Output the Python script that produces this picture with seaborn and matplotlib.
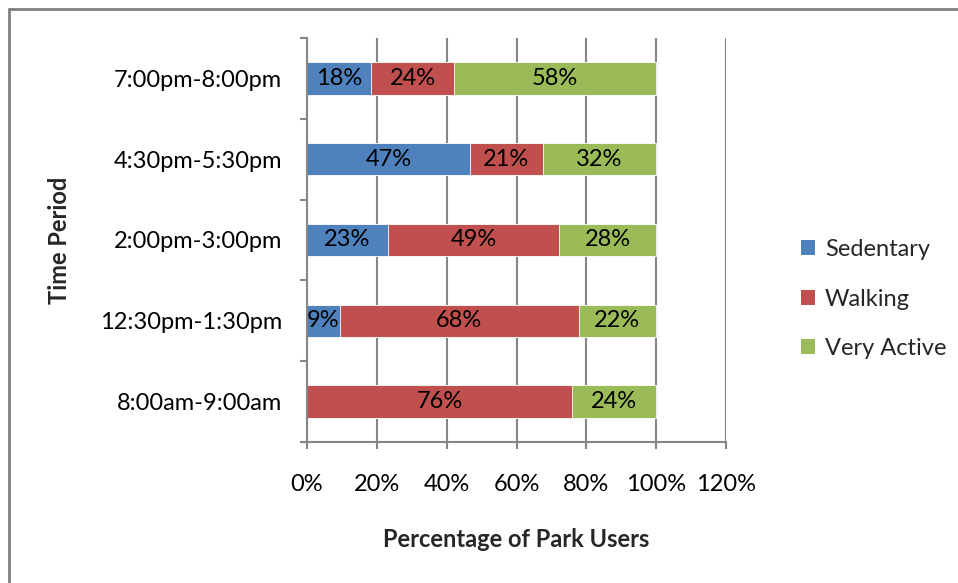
import matplotlib
matplotlib.use("Agg")
import matplotlib.pyplot as plt
from matplotlib.patches import Patch
from matplotlib.lines import Line2D
import numpy as np
import pandas as pd
import seaborn as sns

# Share of park users by activity level for each observation window (%)
periods = ["7:00pm-8:00pm", "4:30pm-5:30pm", "2:00pm-3:00pm",
           "12:30pm-1:30pm", "8:00am-9:00am"]
sedentary = [18.4, 46.6, 23.2, 9.4, 0.0]
walking = [23.7, 21.0, 49.0, 68.4, 76.0]
very_active = [57.9, 32.4, 27.8, 22.2, 24.0]

series_names = ["Sedentary", "Walking", "Very Active"]
colors = ["#4F81BD", "#C0504D", "#9BBB59"]
x_ticks = [0, 20, 40, 60, 80, 100, 120]

sns.set_theme(style="white")
plt.rcParams["font.family"] = ["Lato", "DejaVu Sans"]
FS = 17

df = pd.DataFrame({"period": periods, "Sedentary": sedentary,
                   "Walking": walking, "Very Active": very_active})
cum = df[series_names].cumsum(axis=1)

fig = plt.figure(figsize=(9.58, 5.83), dpi=100)
ax = fig.add_axes([307 / 958, 1 - 442 / 583, (726 - 307) / 958, (442 - 38) / 583])

grid_c = "#868686"
for t in x_ticks[1:]:
    ax.axvline(t, color=grid_c, lw=1.5, zorder=0)

# Stack by drawing cumulative totals from the outermost segment inward
for name, col in reversed(list(zip(series_names, colors))):
    sns.barplot(data=cum.assign(period=df["period"]), x=name, y="period",
                orient="h", color=col, width=0.4, saturation=1,
                edgecolor="white", linewidth=0.6, ax=ax, zorder=2)

# Value labels centred in each segment
starts = cum.shift(axis=1, fill_value=0)
for i in range(len(df)):
    for name in series_names:
        v = df.loc[i, name]
        if v <= 0:
            continue
        ax.text(starts.loc[i, name] + v / 2, i, f"{v:.0f}%",
                ha="center", va="center", fontsize=FS, color="black", zorder=3)

ax.set_xlim(0, 120)
ax.set_ylim(len(df) - 0.5, -0.5)
ax.set_xticks(x_ticks)
ax.set_xticklabels([f"{t}%" for t in x_ticks], fontsize=FS)
ax.set_yticks(range(len(df)))
ax.set_yticklabels(periods, fontsize=FS)
ax.set_yticks(np.arange(-0.5, len(df), 1), minor=True)

ax.tick_params(axis="x", which="major", bottom=True, length=5, width=1.5,
               color=grid_c, labelcolor="black", pad=18, direction="out")
ax.tick_params(axis="y", which="major", left=True, length=0, pad=18, labelcolor="black")
ax.tick_params(axis="y", which="minor", left=True, length=5, width=1.5,
               color=grid_c, direction="out")

for s in ["top", "right"]:
    ax.spines[s].set_visible(False)
for s in ["left", "bottom"]:
    ax.spines[s].set_color(grid_c)
    ax.spines[s].set_linewidth(1.5)
    ax.spines[s].set_zorder(4)

ax.set_xlabel("Percentage of Park Users", fontsize=FS, fontweight="bold", labelpad=24)
ax.set_ylabel("Time Period", fontsize=FS, fontweight="bold", labelpad=21)

handles = [Patch(facecolor=c, edgecolor="none") for c in colors]
fig.legend(handles, series_names, loc="upper left", bbox_to_anchor=(780 / 958, 1 - 218 / 583),
           frameon=False, fontsize=FS, handlelength=0.6, handleheight=0.6,
           handletextpad=0.4, labelspacing=1.2)

# Chart frame (left and top edges)
fig.add_artist(Line2D([9 / 958, 9 / 958], [0, 1 - 9 / 583], transform=fig.transFigure,
                      color="#808080", lw=2))
fig.add_artist(Line2D([9 / 958, 1], [1 - 9 / 583, 1 - 9 / 583], transform=fig.transFigure,
                      color="#808080", lw=2))

fig.savefig("out.png", dpi=100, facecolor="white")
